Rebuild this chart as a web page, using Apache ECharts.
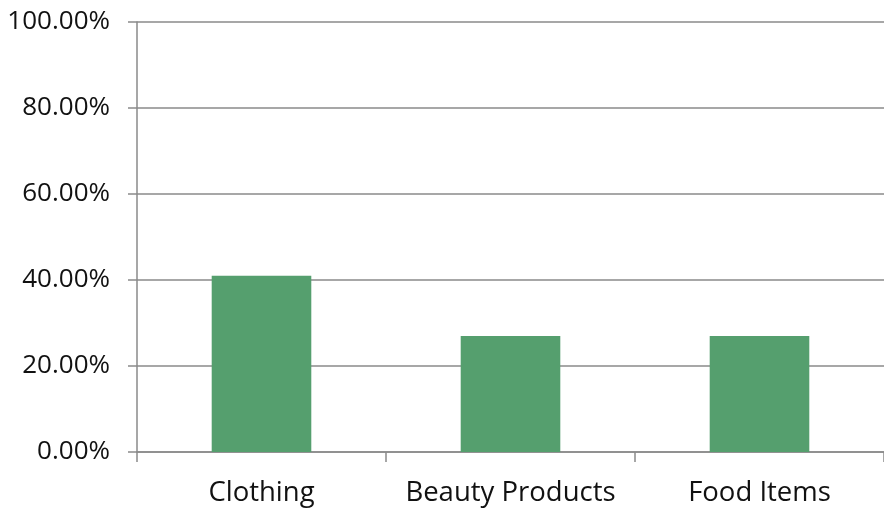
<!DOCTYPE html>
<html>
<head>
<meta charset="utf-8">
<script src="https://cdn.jsdelivr.net/npm/echarts@6/dist/echarts.min.js"></script>
<style>
  html, body { margin: 0; padding: 0; background: #ffffff; }
  #chart { width: 884px; height: 508px; }
</style>
</head>
<body>
<div id="chart"></div>
<script>
// Share of purchases by product category (percent)
const categories = ['Clothing', 'Beauty Products', 'Food Items'];
const shareValues = [41, 27, 27];
const yTicks = { min: 0, max: 100, step: 20 };

const lineColor = '#8a8a8a';
const fontFamily = '"Open Sans", "Noto Sans", sans-serif';

const chart = echarts.init(document.getElementById('chart'), null, { renderer: 'canvas' });
chart.setOption({
  animation: false,
  backgroundColor: '#ffffff',
  grid: { left: 137, top: 22, width: 750, height: 430, containLabel: false },
  xAxis: {
    type: 'category',
    data: categories,
    boundaryGap: true,
    axisLine: { show: true, lineStyle: { color: lineColor, width: 1.5 } },
    axisTick: { show: true, interval: 0, alignWithLabel: false, length: 10, lineStyle: { color: lineColor, width: 1.5 } },
    axisLabel: { interval: 0, color: '#111111', fontSize: 27.5, fontFamily: fontFamily, margin: 27 },
    splitLine: { show: false }
  },
  yAxis: {
    type: 'value',
    min: yTicks.min,
    max: yTicks.max,
    interval: yTicks.step,
    axisLine: { show: true, lineStyle: { color: lineColor, width: 1.5 } },
    axisTick: { show: true, inside: false, length: 9, lineStyle: { color: lineColor, width: 1.5 } },
    axisLabel: {
      color: '#111111', fontSize: 26, fontFamily: fontFamily, margin: 27,
      formatter: v => v.toFixed(2) + '%'
    },
    splitLine: { show: true, lineStyle: { color: lineColor, width: 1.5 } }
  },
  series: [{
    type: 'bar',
    data: shareValues,
    barWidth: '40%',
    itemStyle: { color: '#559f6e' }
  }]
});
</script>
</body>
</html>
